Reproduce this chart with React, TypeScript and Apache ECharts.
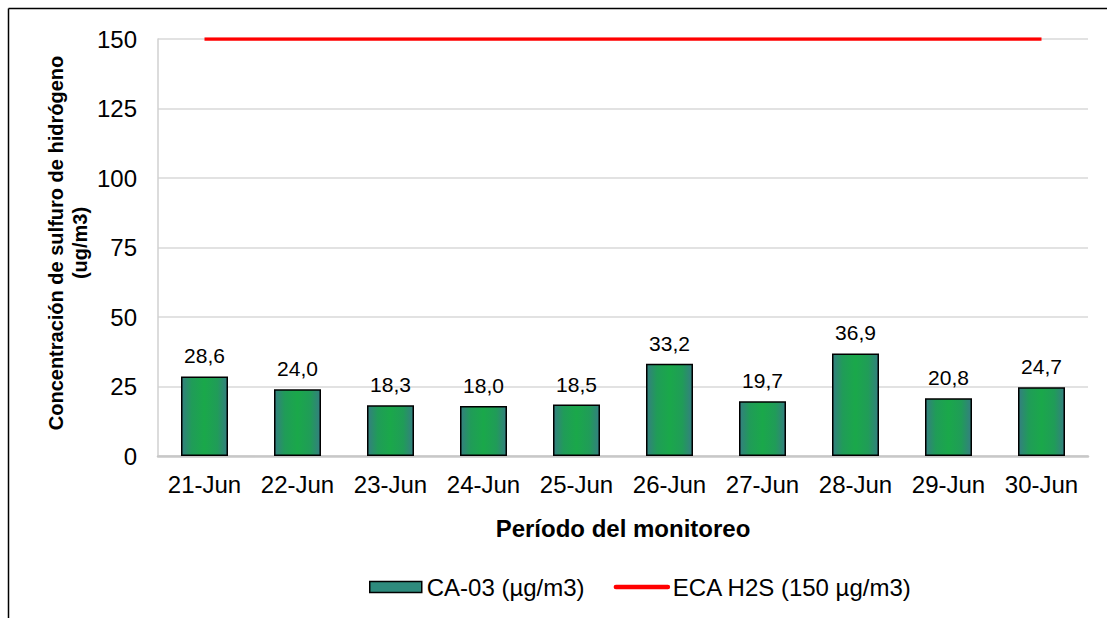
import React, { useEffect, useRef } from "react";
import * as echarts from "echarts";

const categories = ["21-Jun", "22-Jun", "23-Jun", "24-Jun", "25-Jun", "26-Jun", "27-Jun", "28-Jun", "29-Jun", "30-Jun"];
const caValues = [28.6, 24.0, 18.3, 18.0, 18.5, 33.2, 19.7, 36.9, 20.8, 24.7];
const ecaValues = [150, 150, 150, 150, 150, 150, 150, 150, 150, 150];
const yTicks = { min: 0, max: 150, interval: 25 };
const seriesNames = ["CA-03 (µg/m3)", "ECA H2S (150 µg/m3)"];
const yTitle = "Concentración de sulfuro de hidrógeno\n(ug/m3)";
const xTitle = "Período del monitoreo";

const FONT = "'Liberation Sans', Arial, sans-serif";

export default function App() {
  const ref = useRef<HTMLDivElement>(null);
  useEffect(() => {
    if (!ref.current) return;
    const chart = echarts.init(ref.current, null, { renderer: "svg" });
    const barFill = new echarts.graphic.LinearGradient(0, 0, 1, 0, [
      { offset: 0, color: "#347f80" },
      { offset: 0.22, color: "#209c58" },
      { offset: 0.5, color: "#1aa84a" },
      { offset: 0.78, color: "#209c58" },
      { offset: 1, color: "#347f80" },
    ]);
    chart.setOption({
      animation: false,
      textStyle: { fontFamily: FONT },
      grid: { left: 158, right: 19, top: 39, bottom: 162, containLabel: false },
      graphic: [
        { type: "line", shape: { x1: 8.5, y1: 8.5, x2: 1107, y2: 8.5 }, style: { stroke: "#000", lineWidth: 1.5 } },
        { type: "line", shape: { x1: 8.5, y1: 8.5, x2: 8.5, y2: 618 }, style: { stroke: "#000", lineWidth: 1.5 } },
        {
          type: "text",
          x: 68,
          y: 243,
          rotation: Math.PI / 2,
          style: {
            text: yTitle,
            font: `bold 20px ${FONT}`,
            fill: "#000",
            align: "center",
            verticalAlign: "middle",
            lineHeight: 24,
          },
        },
      ],
      legend: {
        bottom: 14,
        left: 364,
        itemGap: 29,
        itemWidth: 52,
        itemHeight: 11,
        textStyle: { fontFamily: FONT, fontSize: 24, color: "#000" },
        data: [
          { name: seriesNames[0], icon: "rect", itemStyle: { color: "#2e8b7d", borderColor: "#000", borderWidth: 1.5 } },
          {
            name: seriesNames[1],
            itemStyle: { color: "rgba(0,0,0,0)", borderWidth: 0, opacity: 0 },
            lineStyle: { color: "#ff0000", width: 4.5, cap: "round" },
          },
        ],
      },
      xAxis: {
        type: "category",
        data: categories,
        name: xTitle,
        nameLocation: "middle",
        nameGap: 60,
        nameTextStyle: { fontFamily: FONT, fontSize: 24, fontWeight: "bold", color: "#000" },
        axisLine: { show: true, lineStyle: { color: "#c8c8c8", width: 2.5 } },
        axisTick: { show: false },
        axisLabel: { fontFamily: FONT, fontSize: 24, color: "#000", margin: 16, interval: 0 },
      },
      yAxis: {
        type: "value",
        min: yTicks.min,
        max: yTicks.max,
        interval: yTicks.interval,
        axisLine: { show: true, lineStyle: { color: "#d0d0d0", width: 1.5 } },
        axisTick: { show: false },
        splitLine: { lineStyle: { color: "#d9d9d9", width: 1.5 } },
        axisLabel: { fontFamily: FONT, fontSize: 24, color: "#000", margin: 21 },
      },
      series: [
        {
          name: seriesNames[0],
          type: "bar",
          data: caValues,
          barWidth: 47,
          itemStyle: { color: barFill, borderColor: "#000", borderWidth: 1.5 },
          label: {
            show: true,
            position: "top",
            distance: 10,
            fontFamily: FONT,
            fontSize: 21,
            color: "#000",
            formatter: (p: any) => Number(p.value).toFixed(1).replace(".", ","),
          },
        },
        {
          name: seriesNames[1],
          type: "line",
          data: ecaValues,
          symbol: "none",
          lineStyle: { color: "#ff0000", width: 3.5 },
          itemStyle: { color: "#ff0000" },
          z: 5,
        },
      ],
    });
    return () => chart.dispose();
  }, []);
  return <div ref={ref} style={{ position: "absolute", left: 0, top: 0, width: 1107, height: 618 }} />;
}
